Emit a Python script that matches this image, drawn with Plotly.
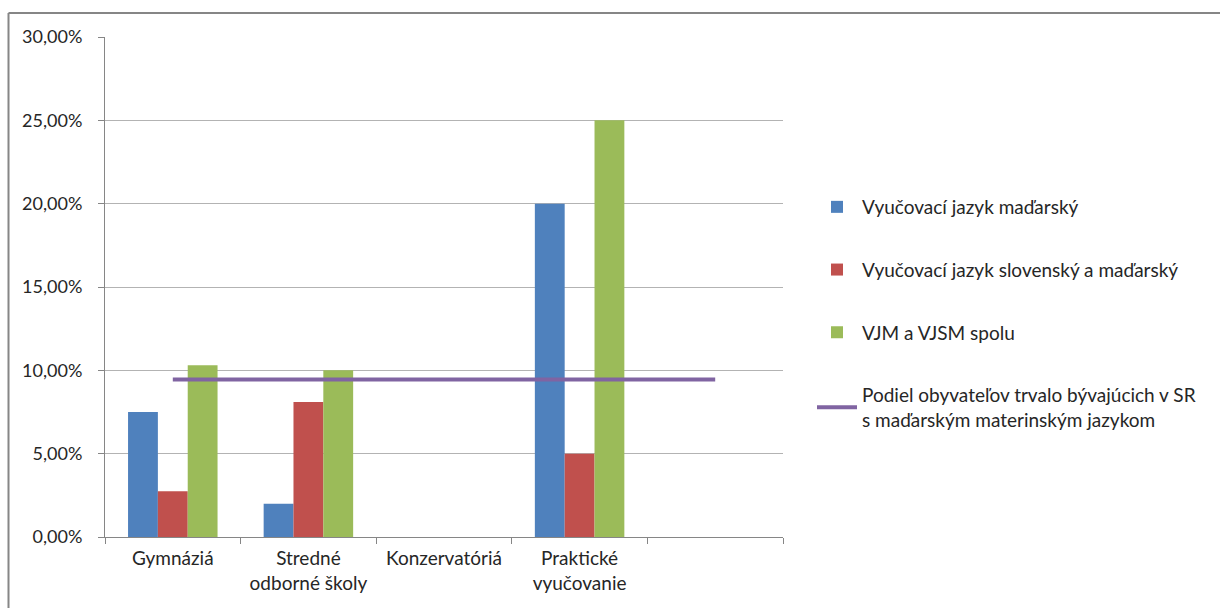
import plotly.graph_objects as go

categories = ["Gymnáziá", "Stredné<br>odborné školy", "Konzervatóriá", "Praktické<br>vyučovanie", " "]
vjm = [7.5, 2.0, 0.0, 20.0, None]
vjsm = [2.75, 8.1, 0.0, 5.0, None]
spolu = [10.3, 10.0, 0.0, 25.0, None]
podiel = [9.45, 9.45, 9.45, 9.45, 9.45]

names = [
    "Vyučovací jazyk maďarský",
    "Vyučovací jazyk slovenský a maďarský",
    "VJM a VJSM spolu",
    "Podiel obyvateľov trvalo bývajúcich v SR<br>s maďarským materinským jazykom",
]
colors = ["#4F81BD", "#C0504D", "#9BBB59", "#8064A2"]
yticks = [0, 5, 10, 15, 20, 25, 30]
yticklabels = ["0,00%", "5,00%", "10,00%", "15,00%", "20,00%", "25,00%", "30,00%"]

FONT = "Lato"
W, H = 1220, 608
L, R, T, B = 105, 783, 37, 537

fig = go.Figure()
for i, vals in enumerate([vjm, vjsm, spolu]):
    fig.add_trace(go.Bar(x=categories, y=vals, name=names[i], marker_color=colors[i],
                         marker_line_width=0, legendgroup=f"g{i}"))
fig.add_trace(go.Scatter(x=categories, y=podiel, name=names[3], mode="lines",
                         line=dict(color=colors[3], width=4), legendgroup="g3"))

pw = R - L
ph = B - T
def px(x):
    return (x - L) / pw
def py(y):
    return (B - y) / ph

fig.update_layout(
    width=W, height=H,
    margin=dict(l=L, r=W - R, t=T, b=H - B, pad=0),
    paper_bgcolor="white", plot_bgcolor="white",
    barmode="group", bargap=0.34, bargroupgap=0,
    font=dict(family=FONT, size=19, color="#262626"),
    showlegend=True,
    legend=dict(x=px(812), y=py(188), xanchor="left", yanchor="top",
                traceorder="grouped", tracegroupgap=35, itemwidth=40,
                font=dict(family=FONT, size=19, color="#262626"),
                bgcolor="rgba(0,0,0,0)"),
    xaxis=dict(range=[-0.5, 4.5], type="category", showgrid=False,
               showline=True, linecolor="#868686", linewidth=1,
               ticks="outside", tickson="boundaries", ticklen=6, tickcolor="#868686",
               ticklabelstandoff=4,
               tickfont=dict(family=FONT, size=19, color="#262626")),
    yaxis=dict(range=[0, 30], tickvals=yticks, ticktext=yticklabels,
               showgrid=True, gridcolor="#B3B3B3", gridwidth=1,
               showline=True, linecolor="#868686", linewidth=1,
               ticks="outside", ticklen=6, tickcolor="#868686",
               ticklabelstandoff=12,
               tickfont=dict(family=FONT, size=18, color="#262626"),
               zeroline=False),
    shapes=[
        dict(type="line", xref="paper", yref="paper", x0=px(8.5), x1=px(1221), y0=py(13), y1=py(13),
             line=dict(color="#868686", width=2)),
        dict(type="line", xref="paper", yref="paper", x0=px(8.5), x1=px(8.5), y0=py(13), y1=py(609),
             line=dict(color="#868686", width=2)),
    ],
)

fig.write_html("out.html")
